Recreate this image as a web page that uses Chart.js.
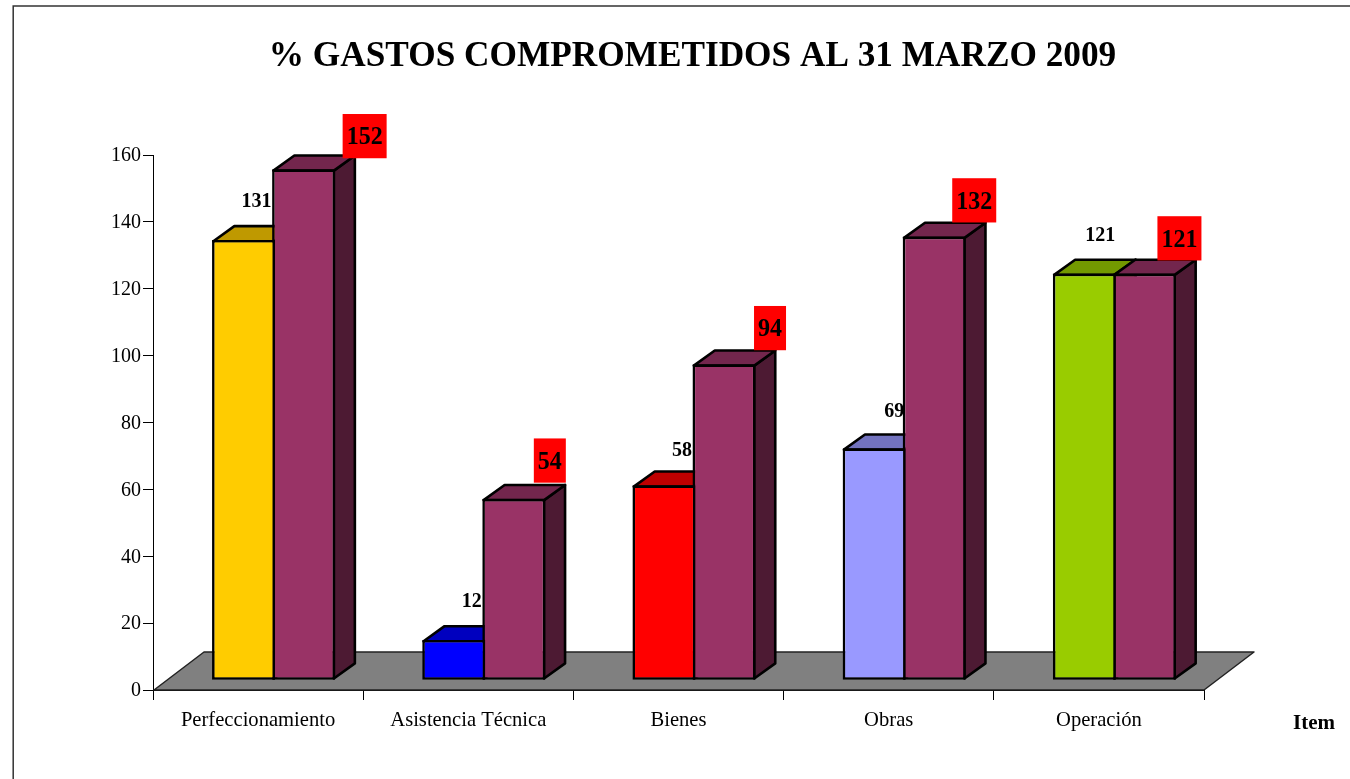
<!DOCTYPE html>
<html><head><meta charset="utf-8">
<style>html,body{margin:0;padding:0;background:#fff}canvas{display:block}</style>
<script src="https://cdn.jsdelivr.net/npm/chart.js@4"></script>
</head><body>
<canvas id="c" width="1350" height="779"></canvas>
<script>
const categories = ["Perfeccionamiento","Asistencia Técnica","Bienes","Obras","Operación"];
const seriesA = [131,12,58,69,121];
const seriesB = [152,54,94,132,121];
const seriesAColors = ["#FFCC00","#0000FF","#FF0000","#9999FF","#99CC00"];
const seriesBColor = "#993366";
const yTicksMax = 160, yTicksStep = 20;
const chartTitle = "% GASTOS COMPROMETIDOS AL 31 MARZO 2009";
const xAxisName = "Item";
// label placement relative to each bar
const labelADx = [13,18,18,20,16], labelADy = [38,38,34,36,38];
const labelBDx = [61,36,46,40,35], labelBDy = [33,38,36,36,35];

const FONT = '"Liberation Serif"';
const DEPTH_X = 21, DEPTH_Y = 15, FLOOR_X = 50, FLOOR_Y = 38, SHIFT_X = 15.5, SHIFT_Y = -9.7, STRETCH = 1.0054, LW = 2.6;

function shade(hex, f){
  const n = parseInt(hex.slice(1),16);
  const p = s => Math.round(((n>>s)&255)*f);
  return `rgb(${p(16)},${p(8)},${p(0)})`;
}
function poly(ctx, pts, fill, lw, stroke){
  ctx.beginPath();
  pts.forEach((p,i)=> i?ctx.lineTo(p[0],p[1]):ctx.moveTo(p[0],p[1]));
  ctx.closePath();
  ctx.fillStyle = fill; ctx.fill();
  ctx.lineWidth = lw; ctx.strokeStyle = stroke; ctx.lineJoin='round'; ctx.stroke();
}
const bars3d = {
  id:'bars3d',
  beforeDraw(chart){
    const ctx = chart.ctx;
    ctx.save();
    ctx.strokeStyle = '#333'; ctx.lineWidth = 1.5;
    ctx.beginPath(); ctx.moveTo(13.2,779); ctx.lineTo(13.2,6); ctx.lineTo(1350,6); ctx.stroke();
    ctx.fillStyle='#000'; ctx.textAlign='center'; ctx.textBaseline='middle';
    ctx.font = `bold 35.25px ${FONT}`;
    ctx.fillText(chartTitle, 692.5, 57);
    ctx.font = `bold 21px ${FONT}`;
    ctx.fillText(xAxisName, 1314, 724);
    ctx.restore();
  },
  beforeDatasetsDraw(chart){
    const ctx = chart.ctx, a = chart.chartArea;
    const L=a.left, R=a.right, B=a.bottom;
    poly(ctx, [[L+1,B],[L+1+FLOOR_X,B-FLOOR_Y],[R+FLOOR_X,B-FLOOR_Y],[R,B]], '#808080', 1.5, '#222');
    ctx.save();
    ctx.translate(SHIFT_X, B+SHIFT_Y);
    ctx.scale(1, STRETCH);
    ctx.translate(0, -B);
    const m0 = chart.getDatasetMeta(0).data, m1 = chart.getDatasetMeta(1).data;
    const h = LW/2;
    categories.forEach((_,i)=>{
      [[m0[i],seriesAColors[i]],[m1[i],seriesBColor]].forEach(([el,col])=>{
        const p = el.getProps(['x','y','base','width'], true);
        const l = p.x-p.width/2+h, r = p.x+p.width/2-h, t = p.y+h, b = p.base-h;
        poly(ctx, [[r,t],[r+DEPTH_X,t-DEPTH_Y],[r+DEPTH_X,b-DEPTH_Y],[r,b]], shade(col,.5), LW, '#000');
        poly(ctx, [[l,t],[l+DEPTH_X,t-DEPTH_Y],[r+DEPTH_X,t-DEPTH_Y],[r,t]], shade(col,.75), LW, '#000');
      });
    });
  },
  afterDatasetsDraw(chart){
    const ctx = chart.ctx;
    const m0 = chart.getDatasetMeta(0).data, m1 = chart.getDatasetMeta(1).data;
    ctx.textAlign='center'; ctx.textBaseline='middle'; ctx.fillStyle='#000';
    ctx.font = `bold 20px ${FONT}`;
    categories.forEach((_,i)=>{
      const p = m0[i].getProps(['x','y'], true);
      ctx.fillText(String(seriesA[i]), p.x+labelADx[i], p.y-labelADy[i]);
    });
    ctx.font = `bold 24px ${FONT}`;
    categories.forEach((_,i)=>{
      const p = m1[i].getProps(['x','y'], true);
      const s = String(seriesB[i]), w = ctx.measureText(s).width+8, cx = p.x+labelBDx[i], cy = p.y-labelBDy[i];
      ctx.fillStyle='#FF0000'; ctx.fillRect(cx-w/2, cy-22, w, 44);
      ctx.fillStyle='#000'; ctx.fillText(s, cx, cy+2);
    });
    ctx.restore();
  }
};
new Chart(document.getElementById('c'), {
  type:'bar',
  data:{labels:categories, datasets:[
    {label:'A', data:seriesA, backgroundColor:seriesAColors, borderColor:'#000', borderWidth:LW, borderSkipped:false, clip:false},
    {label:'B', data:seriesB, backgroundColor:seriesBColor, borderColor:'#000', borderWidth:LW, borderSkipped:false, clip:false}
  ]},
  options:{
    responsive:false, animation:false, devicePixelRatio:1,
    layout:{padding:{top:155,right:146,left:0,bottom:0}},
    datasets:{bar:{categoryPercentage:120/210, barPercentage:63/60}},
    plugins:{legend:{display:false},title:{display:false},tooltip:{enabled:false}},
    scales:{
      x:{
        afterFit(s){s.height=89;},
        grid:{drawOnChartArea:false,color:'#000',tickLength:10,offset:true},
        border:{color:'#000',width:1},
        ticks:{color:'#000',font:{family:FONT,size:20.6},padding:8,maxRotation:0,autoSkip:false}
      },
      y:{
        min:0,max:yTicksMax,
        afterFit(s){s.width=153;},
        grid:{drawOnChartArea:false,color:'#000',tickLength:10},
        border:{color:'#000',width:1},
        ticks:{color:'#000',font:{family:FONT,size:20},stepSize:yTicksStep,padding:2,labelOffset:1}
      }
    }
  },
  plugins:[bars3d]
});
</script>
</body></html>
